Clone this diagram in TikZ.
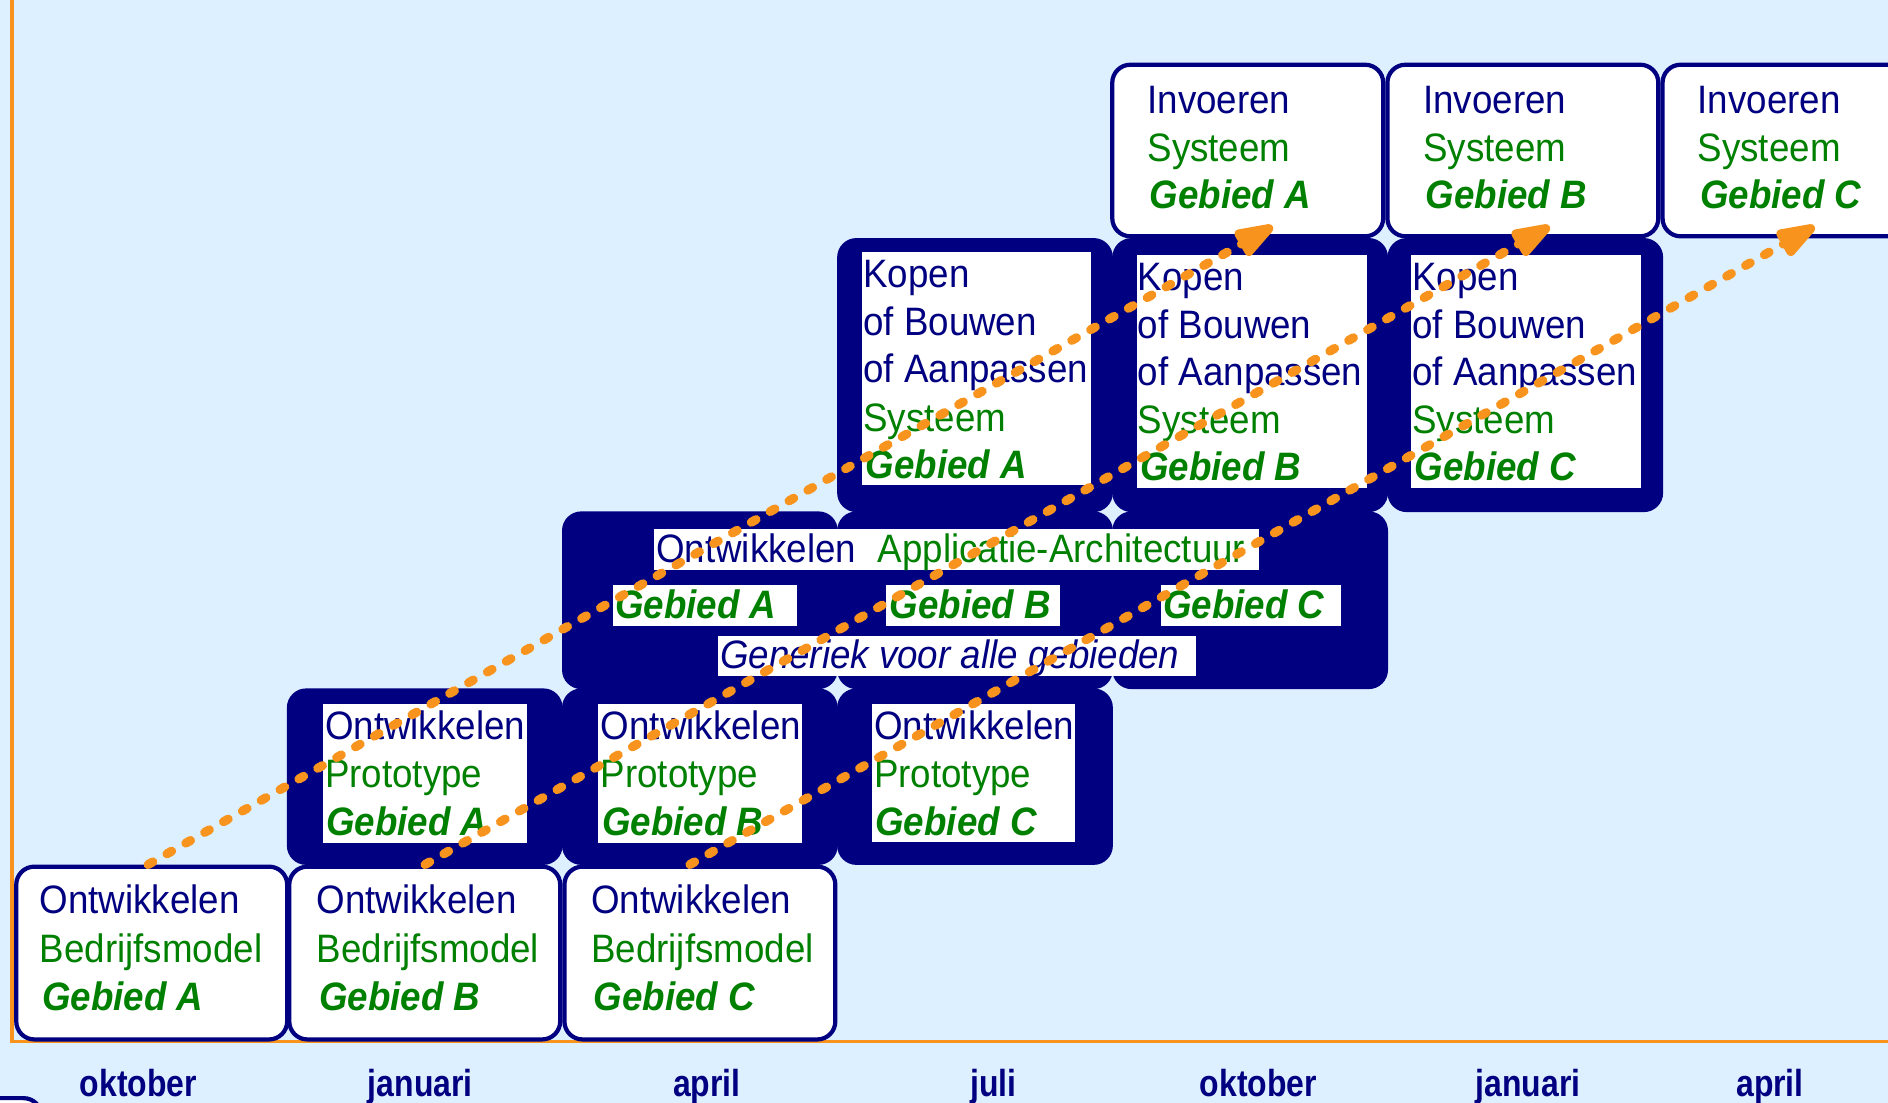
\documentclass[tikz,border=0pt]{standalone}
\usepackage{fontspec}
\setmainfont{Liberation Sans}
\usepackage{graphicx}
\usetikzlibrary{arrows.meta}
\definecolor{bg}{RGB}{221,240,255}
\definecolor{navy}{RGB}{0,0,128}
\definecolor{dgreen}{RGB}{0,128,0}
\definecolor{orng}{RGB}{248,148,29}
\newcommand\vst[1]{\scalebox{1}[1.08]{#1}}
\begin{document}
\begin{tikzpicture}[x=1pt,y=-1pt,
 every node/.style={inner sep=0pt, outer sep=0pt},
 nbox/.style={rectangle, fill=navy, rounded corners=16pt, minimum width=229pt},
 wbox/.style={rectangle, fill=white, draw=navy, line width=3.5pt, rounded corners=15pt, minimum width=225pt},
 hl/.style={rectangle, fill=white, anchor=north west},
 tn/.style={anchor=base west, text=navy, font=\fontsize{30.5}{36}\selectfont},
 tg/.style={anchor=base west, text=dgreen, font=\fontsize{30.5}{36}\selectfont},
 tb/.style={anchor=base west, text=dgreen, font=\fontsize{30.5}{36}\selectfont\bfseries\itshape},
 ti/.style={anchor=base west, text=navy, font=\fontsize{30.5}{36}\selectfont\itshape},
 mon/.style={anchor=base, text=navy, font=\fontsize{26.5}{30}\selectfont\bfseries},
 flow/.style={draw=orng, line width=7.5pt, line cap=round, dash pattern=on 4.5pt off 13.5pt, -{Triangle[length=40pt,width=25pt,round]}}
]
\fill[bg] (0,0) rectangle (1568,916);
\useasboundingbox (0,0) rectangle (1568,916);
\clip (0,0) rectangle (1568,916);
% axes
\draw[orng, line width=3pt] (10,0) -- (10,865) -- (1568,865);
% months
\node[mon] (m1) at (115,911) {\scalebox{1}[1.18]{oktober}};
\node[mon] (m2) at (349,911) {\scalebox{1}[1.18]{januari}};
\node[mon] (m3) at (587,911) {\scalebox{1}[1.18]{april}};
\node[mon] (m4) at (825,911) {\scalebox{1}[1.18]{juli}};
\node[mon] (m5) at (1045,911) {\scalebox{1}[1.18]{oktober}};
\node[mon] (m6) at (1269,911) {\scalebox{1}[1.18]{januari}};
\node[mon] (m7) at (1470,911) {\scalebox{1}[1.18]{april}};
% partial box bottom-left
\node[wbox, minimum height=100pt] (part) at (-78,962) {};
% row 1
\node[wbox, minimum height=143.5pt] (r1a) at (126,791.5) {};
\node[wbox, minimum height=143.5pt] (r1b) at (352.75,791.5) {};
\node[wbox, minimum height=143.5pt] (r1c) at (581.25,791.5) {};
% row 2
\node[nbox, minimum height=146.6pt] (r2a) at (352.75,645) {};
\node[nbox, minimum height=146.6pt] (r2b) at (581.25,645) {};
\node[nbox, minimum height=146.6pt] (r2c) at (809.75,645) {};
% row 3
\node[nbox, minimum height=147.6pt] (r3a) at (581.25,498.5) {};
\node[nbox, minimum height=147.6pt] (r3b) at (809.75,498.5) {};
\node[nbox, minimum height=147.6pt] (r3c) at (1038.25,498.5) {};
% row 4
\node[nbox, minimum height=227.6pt] (r4a) at (809.75,311.5) {};
\node[nbox, minimum height=227.6pt] (r4b) at (1038.25,311.5) {};
\node[nbox, minimum height=227.6pt] (r4c) at (1266.75,311.5) {};
% row 5
\node[wbox, minimum height=142.5pt] (r5a) at (1036.25,125) {};
\node[wbox, minimum height=142.5pt] (r5b) at (1264.75,125) {};
\node[wbox, minimum height=142.5pt] (r5c) at (1493.25,125) {};
% highlight rects
\node[hl, minimum width=170pt, minimum height=115pt] (h2a) at (268,585) {};
\node[hl, minimum width=169pt, minimum height=115pt] (h2b) at (497,585) {};
\node[hl, minimum width=169pt, minimum height=114pt] (h2c) at (724,585) {};
\node[hl, minimum width=503pt, minimum height=34pt] (h3t) at (543,439) {};
\node[hl, minimum width=153pt, minimum height=34pt] (h3a) at (509,486) {};
\node[hl, minimum width=144pt, minimum height=34pt] (h3b) at (736,486) {};
\node[hl, minimum width=150pt, minimum height=34pt] (h3c) at (964,486) {};
\node[hl, minimum width=397pt, minimum height=33pt] (h3g) at (596,528) {};
\node[hl, minimum width=190pt, minimum height=194pt] (h4a) at (716,209) {};
\node[hl, minimum width=191pt, minimum height=193pt] (h4b) at (944,212) {};
\node[hl, minimum width=191pt, minimum height=193pt] (h4c) at (1172,212) {};
% row 1 text
\node[tn] (t1a1) at (33,759) {\vst{Ontwikkelen}};
\node[tg] (t1a2) at (33,799) {\vst{Bedrijfsmodel}};
\node[tb] (t1a3) at (35,839) {\vst{Gebied A}};
\node[tn] (t1b1) at (263,759) {\vst{Ontwikkelen}};
\node[tg] (t1b2) at (263,799) {\vst{Bedrijfsmodel}};
\node[tb] (t1b3) at (265,839) {\vst{Gebied B}};
\node[tn] (t1c1) at (491,759) {\vst{Ontwikkelen}};
\node[tg] (t1c2) at (491,799) {\vst{Bedrijfsmodel}};
\node[tb] (t1c3) at (493,839) {\vst{Gebied C}};
% row 2 text
\node[tn] (t2a1) at (270,614) {\vst{Ontwikkelen}};
\node[tg] (t2a2) at (270,654) {\vst{Prototype}};
\node[tb] (t2a3) at (271,694) {\vst{Gebied A}};
\node[tn] (t2b1) at (499,614) {\vst{Ontwikkelen}};
\node[tg] (t2b2) at (499,654) {\vst{Prototype}};
\node[tb] (t2b3) at (500,694) {\vst{Gebied B}};
\node[tn] (t2c1) at (726,614) {\vst{Ontwikkelen}};
\node[tg] (t2c2) at (726,654) {\vst{Prototype}};
\node[tb] (t2c3) at (727,694) {\vst{Gebied C}};
% row 3 text
\node[tn] (t3t1) at (545,467) {\vst{Ontwikkelen}};
\node[tg] (t3t2) at (729,467) {\vst{Applicatie-Architectuur}};
\node[tb] (t3a) at (511,514) {\vst{Gebied A}};
\node[tb] (t3b) at (739,514) {\vst{Gebied B}};
\node[tb] (t3c) at (966,514) {\vst{Gebied C}};
\node[ti] (t3g) at (598,555) {\vst{Generiek voor alle gebieden}};
% row 4 text
\node[tn] (t4a1) at (717,239) {\vst{Kopen}};
\node[tn] (t4a2) at (717,279) {\vst{of Bouwen}};
\node[tn] (t4a3) at (717,318) {\vst{of Aanpassen}};
\node[tg] (t4a4) at (717,358) {\vst{Systeem}};
\node[tb] (t4a5) at (719,397) {\vst{Gebied A}};
\node[tn] (t4b1) at (945,241) {\vst{Kopen}};
\node[tn] (t4b2) at (945,281) {\vst{of Bouwen}};
\node[tn] (t4b3) at (945,320) {\vst{of Aanpassen}};
\node[tg] (t4b4) at (945,360) {\vst{Systeem}};
\node[tb] (t4b5) at (947,399) {\vst{Gebied B}};
\node[tn] (t4c1) at (1173,241) {\vst{Kopen}};
\node[tn] (t4c2) at (1173,281) {\vst{of Bouwen}};
\node[tn] (t4c3) at (1173,320) {\vst{of Aanpassen}};
\node[tg] (t4c4) at (1173,360) {\vst{Systeem}};
\node[tb] (t4c5) at (1175,399) {\vst{Gebied C}};
% row 5 text
\node[tn] (t5a1) at (953,94) {\vst{Invoeren}};
\node[tg] (t5a2) at (953,134) {\vst{Systeem}};
\node[tb] (t5a3) at (955,173) {\vst{Gebied A}};
\node[tn] (t5b1) at (1182,94) {\vst{Invoeren}};
\node[tg] (t5b2) at (1182,134) {\vst{Systeem}};
\node[tb] (t5b3) at (1184,173) {\vst{Gebied B}};
\node[tn] (t5c1) at (1410,94) {\vst{Invoeren}};
\node[tg] (t5c2) at (1410,134) {\vst{Systeem}};
\node[tb] (t5c3) at (1412,173) {\vst{Gebied C}};
% arrows
\coordinate (s1) at (123,718);
\coordinate (s2) at (353,718);
\coordinate (s3) at (573,718);
\coordinate (e1) at (1057,188);
\coordinate (e2) at (1287,188);
\coordinate (e3) at (1507,188);
\draw[flow] (s1) -- (e1);
\draw[flow] (s2) -- (e2);
\draw[flow] (s3) -- (e3);
\end{tikzpicture}
\end{document}
